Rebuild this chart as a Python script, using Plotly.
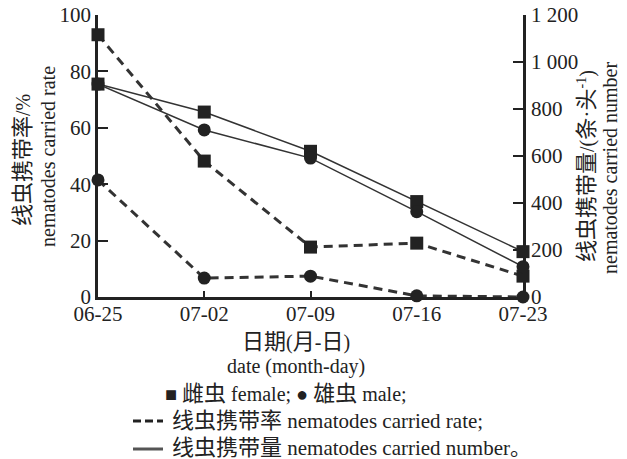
import plotly.graph_objects as go

dates = ["06-25", "07-02", "07-09", "07-16", "07-23"]
rate_female = [93, 48.2, 17.7, 19.1, 7.4]
rate_male = [41.5, 6.7, 7.4, 0.4, 0]
number_female = [906, 787, 620, 406, 193]
number_male = [906, 711, 591, 363, 129]
left_ticks = [0, 20, 40, 60, 80, 100]
right_ticks = [0, 200, 400, 600, 800, 1000, 1200]
right_tick_labels = ["0", "200", "400", "600", "800", "1 000", "1 200"]

FONT = "Liberation Serif, Times New Roman, Noto Sans CJK SC, serif"
INK = "#222222"
W, H = 627, 459
OFF = 8  # page body margin
L, R, T, B = 98, 523, 15, 297  # plot area in page pixels


def px(x):
    return (x - L) / (R - L)


def py(y):
    return (B - y) / (B - T)


def zh(s):
    return '<span style="font-size:22px">' + s + '</span>'


fig = go.Figure()

fig.add_trace(go.Scatter(x=dates, y=number_female, yaxis="y2", mode="lines+markers",
                         line=dict(color="#333333", width=1.5),
                         marker=dict(symbol="square", size=13, color=INK),
                         cliponaxis=False, showlegend=False))
fig.add_trace(go.Scatter(x=dates, y=number_male, yaxis="y2", mode="lines+markers",
                         line=dict(color="#333333", width=1.5),
                         marker=dict(symbol="circle", size=13, color=INK),
                         cliponaxis=False, showlegend=False))
fig.add_trace(go.Scatter(x=dates, y=rate_female, mode="lines+markers",
                         line=dict(color="#333333", width=3, dash="9px,6px"),
                         marker=dict(symbol="square", size=13, color=INK),
                         cliponaxis=False, showlegend=False))
fig.add_trace(go.Scatter(x=dates, y=rate_male, mode="lines+markers",
                         line=dict(color="#333333", width=3, dash="9px,6px"),
                         marker=dict(symbol="circle", size=13, color=INK),
                         cliponaxis=False, showlegend=False))

tickfont = dict(family=FONT, size=21, color=INK)
fig.update_layout(
    width=W, height=H,
    margin=dict(l=L - OFF, r=W - R + OFF, t=T - OFF, b=H - B + OFF, pad=0, autoexpand=False),
    paper_bgcolor="white", plot_bgcolor="white",
    font=dict(family=FONT, size=20, color=INK),
    xaxis=dict(type="category", range=[0, 4], showgrid=False, zeroline=False,
               showline=True, linecolor=INK, linewidth=2.5, automargin=False,
               ticks="inside", ticklen=6, tickwidth=1.5, tickcolor=INK,
               tickfont=tickfont, ticklabelstandoff=-4, ticklabeloverflow="allow"),
    yaxis=dict(range=[0, 100], tickvals=left_ticks, showgrid=False, zeroline=False,
               showline=True, linecolor=INK, linewidth=2.5, automargin=False,
               ticks="inside", ticklen=10, tickwidth=2, tickcolor=INK,
               tickfont=tickfont, ticklabelstandoff=0, ticklabeloverflow="allow"),
    yaxis2=dict(range=[0, 1200], tickvals=right_ticks, ticktext=right_tick_labels,
                overlaying="y", side="right", showgrid=False, zeroline=False,
                showline=True, linecolor=INK, linewidth=2.5, automargin=False,
                ticks="inside", ticklen=10, tickwidth=2, tickcolor=INK,
                tickfont=tickfont, ticklabelstandoff=1, ticklabeloverflow="allow"),
)

ann = []


def add_text(text, x, y, xanchor="center", textangle=0, size=20):
    ann.append(dict(text=text, x=px(x), y=py(y), xref="paper", yref="paper",
                    xanchor=xanchor, yanchor="middle", showarrow=False,
                    textangle=textangle, font=dict(family=FONT, size=size, color=INK)))


add_text(zh("线虫携带率") + "/%", 22, 160, textangle=-90)
add_text("nematodes carried rate", 48, 157, textangle=-90)
add_text(zh("线虫携带量") + "/(" + zh("条·头") + "<sup>-1</sup>)", 587, 166, textangle=-90)
add_text("nematodes carried number", 610, 168, textangle=-90)
add_text(zh("日期") + "(" + zh("月") + "-" + zh("日") + ")", 296, 341)
add_text("date (month-day)", 296, 366)
add_text("■ " + zh("雌虫") + " female; ● " + zh("雄虫") + " male;", 163, 393, xanchor="left")
add_text(zh("线虫携带率") + " nematodes carried rate;", 170, 420, xanchor="left", size=21)
add_text(zh("线虫携带量") + " nematodes carried number。", 170, 447, xanchor="left", size=21)
fig.update_layout(annotations=ann)

fig.add_shape(type="line", xref="paper", yref="paper", x0=px(133), x1=px(163),
              y0=py(421), y1=py(421), line=dict(color=INK, width=3, dash="8px,4px"))
fig.add_shape(type="line", xref="paper", yref="paper", x0=px(133), x1=px(163),
              y0=py(449), y1=py(449), line=dict(color="#555555", width=3))

fig.write_html("out.html")
